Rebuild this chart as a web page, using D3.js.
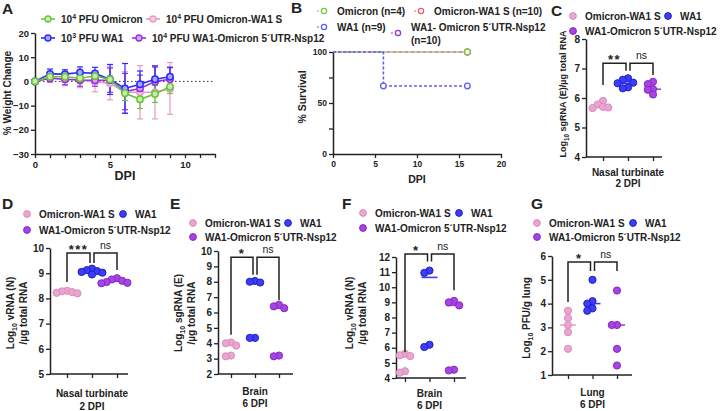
<!DOCTYPE html>
<html>
<head>
<meta charset="utf-8">
<script src="https://cdn.jsdelivr.net/npm/d3@7"></script>
<style>
  body { margin: 0; background: #fff; }
</style>
</head>
<body>
<svg id="fig" width="724" height="411"></svg>
<script>
// ---------- data ----------
// panel A: % weight change by day (mean, error)
const days = [0, 1, 2, 3, 4, 5, 6, 7, 8, 9];
const wOmicron = [0, 1.9, 1.9, 1.3, 2.2, 0.8, -4.9, -7.4, -5.2, -2.2];
const wOmicronErr = [0, 1.5, 1.8, 2.2, 1.8, 1.5, 3.0, 3.8, 3.5, 2.8];
const wOmiWA1S = [0, 1.5, 0.8, 0.6, -0.1, -0.8, -4.5, -4.5, -4.5, -2.9];
const wOmiWA1SErr = [0, 1.8, 2.5, 3.2, 4.2, 6.8, 8.5, 11, 11, 10.7];
const wWA1 = [0, 3.1, 3.0, 3.7, 3.3, 0.8, -2.9, -1.2, 0.9, 1.9];
const wWA1Err = [0, 2.0, 1.8, 2.3, 2.5, 6.2, 10.3, 5.5, 5.5, 3.8];
const wWA1Omi = [0, 1.3, 0.9, 0.6, 0.5, 0.5, -4.2, -2.9, -0.1, 0.9];
const wWA1OmiErr = [0, 1.5, 2.3, 2.6, 2.5, 5.0, 7.5, 5.5, 6.0, 5.0];

// panel B: survival (day, %)
const sOmicronT = [0, 16], sOmicronV = [100, 100];
const sOmiWA1ST = [0, 16], sOmiWA1SV = [100, 100];
const sWA1T = [0, 6, 16], sWA1V = [100, 66.7, 66.7];
const sWA1OmiT = [0, 16], sWA1OmiV = [100, 100];

// panels C-G: individual values [Omicron-WA1 S, WA1, WA1-Omicron 5'UTR-Nsp12]
const cPink = [5.9, 5.78, 5.7, 5.68, 5.66];
const cBlue = [6.67, 6.62, 6.52, 6.5, 6.33, 6.36];
const cPurple = [6.47, 6.55, 6.3, 6.28, 6.12];
const cCenter = [5.72, 6.5, 6.3];
const cBrackets = [["**", 7.18, 6.44, 6.92], ["ns", 7.18, 6.92, 6.78]];

const dPink = [8.3, 8.28, 8.25, 8.22, 8.2];
const dBlue = [9.18, 9.12, 9.08, 9.05, 8.95, 9.02];
const dPurple = [8.8, 8.75, 8.7, 8.65, 8.62, 8.6];
const dCenter = [8.25, 9.05, 8.7];
const dBrackets = [["***", 9.8, 8.65, 9.4], ["ns", 9.8, 9.4, 9.13]];

const ePink = [4.05, 4.0, 3.85, 3.2, 3.15];
const eBlue = [8.05, 8.0, 7.95, 4.35, 4.35];
const ePurple = [6.5, 6.4, 6.28, 3.2, 3.15];
const eCenter = [3.9, 7.95, 6.28];
const eBrackets = [["*", 9.6, 4.55, 8.45], ["ns", 9.6, 8.45, 6.8]];

const fPink = [5.6, 5.5, 5.45, 4.45, 4.35];
const fBlue = [11.1, 10.95, 6.2, 6.05];
const fPurple = [9.1, 9.0, 8.8, 4.55, 4.5];
const fCenter = [5.45, 10.65, 8.8];
const fBrackets = [["*", 12.2, 5.7, 11.7], ["ns", 12.2, 11.7, 9.8]];

const gPink = [3.7, 3.4, 3.1, 2.8, 2.1];
const gBlue = [5.0, 4.1, 4.0, 3.8, 3.7];
const gPurple = [4.55, 3.1, 3.1, 2.1, 1.4];
const gCenter = [3.1, 4.0, 3.1];
const gBrackets = [["*", 5.75, 4.07, 5.37], ["ns", 5.75, 5.37, 5.37]];

const groups = ["Omicron-WA1 S", "WA1", "WA1-Omicron 5´UTR-Nsp12"];

// ---------- styles ----------
const FONT = "'Liberation Sans', Arial, Helvetica, sans-serif";
const INK = "#222";
const green = "#6cc43c", greenFill = "#c8eea6";
const pink = "#e69bc8", pinkFill = "#f4cde3";
const blue = "#2b2bff", blueFill = "#a8a8ff";
const purple = "#9a2fe0", purpleFill = "#d6a9f3";
const dotFill = ["#eaa5d0", "#3d3df6", "#a645e4"];
const dotStroke = ["#d98dbd", "#2020c6", "#8427c4"];

const svg = d3.select("#fig");
svg.append("rect").attr("width", 724).attr("height", 411).attr("fill", "#fff");

function txt(x, y, size, anchor, weight) {
  return svg.append("text")
    .attr("x", x).attr("y", y)
    .attr("font-family", FONT)
    .attr("font-size", size)
    .attr("font-weight", weight || "bold")
    .attr("text-anchor", anchor || "start")
    .attr("fill", INK);
}

// rich text: _{..} subscript, ^{..} superscript
function rich(t, str, size) {
  const re = /(_|\^)\{([^}]*)\}/g;
  let last = 0, shift = 0, m;
  const add = (s, sh, fs) => {
    if (!s) return;
    const ts = t.append("tspan").attr("font-size", fs).text(s);
    if (sh - shift !== 0) ts.attr("dy", sh - shift);
    shift = sh;
  };
  while ((m = re.exec(str))) {
    add(str.slice(last, m.index), 0, size);
    add(m[2], m[1] === "_" ? size * 0.3 : -size * 0.4, size * 0.7);
    last = re.lastIndex;
  }
  add(str.slice(last), 0, size);
  return t;
}

function styleAxis(g, fs) {
  g.attr("font-family", FONT).attr("font-size", fs).attr("font-weight", "bold");
  g.select(".domain").attr("stroke", INK).attr("stroke-width", 1.5);
  g.selectAll(".tick line").attr("stroke", INK).attr("stroke-width", 1.3);
  g.selectAll(".tick text").attr("fill", INK);
}

function panelLetter(l, x, y) {
  txt(x, y, 15.5, "start").text(l);
}

function yLabel(str, x, y, size) {
  const t = txt(0, 0, size, "middle")
    .attr("transform", `translate(${x},${y}) rotate(-90)`)
    .attr("dy", "0.35em");
  rich(t, str, size);
}

// ---------- panel A ----------
panelLetter("A", 2, 14);
const xA = d3.scaleLinear().domain([0, 12]).range([35, 215]);
const yA = d3.scaleLinear().domain([-30, 20]).range([154, 33]);

const axA = svg.append("g").attr("transform", "translate(35,0)")
  .call(d3.axisLeft(yA).tickValues([-30, -20, -10, 0, 10, 20]).tickSize(4).tickSizeOuter(0).tickPadding(2));
styleAxis(axA, 9.5);
const axAx = svg.append("g").attr("transform", "translate(0,154)")
  .call(d3.axisBottom(xA).tickValues(d3.range(0, 13)).tickSize(4).tickSizeOuter(0).tickPadding(3)
    .tickFormat(d => d % 5 === 0 ? d : ""));
styleAxis(axAx, 9.5);

svg.append("line")
  .attr("x1", xA(0)).attr("x2", xA(12)).attr("y1", yA(0)).attr("y2", yA(0))
  .attr("stroke", "#333").attr("stroke-width", 1).attr("stroke-dasharray", "1.5,2.5");

txt(xA(6), 180, 12.5, "middle").text("DPI");
yLabel("% Weight Change", 7, 93, 10);

const seriesA = [
  { v: wOmiWA1S, e: wOmiWA1SErr, c: pink, f: pinkFill },
  { v: wWA1Omi, e: wWA1OmiErr, c: purple, f: purpleFill },
  { v: wWA1, e: wWA1Err, c: blue, f: blueFill },
  { v: wOmicron, e: wOmicronErr, c: green, f: greenFill }
];
const lineA = d3.line().x((d, i) => xA(days[i])).y(d => yA(d));
// error bars first
seriesA.forEach(s => {
  const g = svg.append("g").attr("stroke", s.c).attr("stroke-width", 1.2);
  days.forEach((d, i) => {
    if (!s.e[i]) return;
    const x = xA(d), y1 = yA(s.v[i] + s.e[i]), y2 = yA(s.v[i] - s.e[i]);
    g.append("line").attr("x1", x).attr("x2", x).attr("y1", y1).attr("y2", y2);
    g.append("line").attr("x1", x - 3).attr("x2", x + 3).attr("y1", y1).attr("y2", y1);
    g.append("line").attr("x1", x - 3).attr("x2", x + 3).attr("y1", y2).attr("y2", y2);
  });
});
seriesA.forEach(s => {
  svg.append("path").datum(s.v).attr("d", lineA)
    .attr("fill", "none").attr("stroke", s.c).attr("stroke-width", 1.6);
  svg.append("g").selectAll("circle").data(s.v).join("circle")
    .attr("cx", (d, i) => xA(days[i])).attr("cy", d => yA(d)).attr("r", 3.2)
    .attr("fill", s.f).attr("stroke", s.c).attr("stroke-width", 1.5);
});

// legend A
const legA = [
  { x: 48, y: 19, c: green, f: greenFill, t: "10^{4} PFU Omicron" },
  { x: 153, y: 19, c: pink, f: pinkFill, t: "10^{4} PFU Omicron-WA1 S" },
  { x: 48, y: 38, c: blue, f: blueFill, t: "10^{3} PFU WA1" },
  { x: 139, y: 38, c: purple, f: purpleFill, t: "10^{4} PFU WA1-Omicron 5´UTR-Nsp12" }
];
legA.forEach(l => {
  svg.append("line").attr("x1", l.x - 7).attr("x2", l.x + 7).attr("y1", l.y).attr("y2", l.y)
    .attr("stroke", l.c).attr("stroke-width", 1.6);
  svg.append("circle").attr("cx", l.x).attr("cy", l.y).attr("r", 3)
    .attr("fill", l.f).attr("stroke", l.c).attr("stroke-width", 1.4);
  rich(txt(l.x + 13, l.y + 3.6, 10, "start"), l.t, 10);
});

// ---------- panel B ----------
panelLetter("B", 291, 13);
const xB = d3.scaleLinear().domain([0, 20]).range([333, 501]);
const yB = d3.scaleLinear().domain([0, 100]).range([154, 52]);
const axB = svg.append("g").attr("transform", "translate(333,0)")
  .call(d3.axisLeft(yB).tickValues([0, 25, 50, 75, 100]).tickSize(4).tickSizeOuter(0).tickPadding(2)
    .tickFormat(d => d % 50 === 0 ? d : ""));
styleAxis(axB, 8.5);
const axBx = svg.append("g").attr("transform", "translate(0,154)")
  .call(d3.axisBottom(xB).tickValues([0, 5, 10, 15, 20]).tickSize(4).tickSizeOuter(0).tickPadding(3)
    .tickFormat(d3.format("d")));
styleAxis(axBx, 8.5);
txt(xB(10), 183, 10.5, "middle").text("DPI");
yLabel("% Survival", 302, 97, 10.5);

const survB = [
  { t: sWA1OmiT, v: sWA1OmiV, c: "#9933cc", w: 1, dash: "3,3", off: 0 },
  { t: sOmiWA1ST, v: sOmiWA1SV, c: "#e86464", w: 1, dash: "3,3", off: 3 },
  { t: sOmicronT, v: sOmicronV, c: "#74cc3c", w: 1, dash: "3,3", off: 0 },
  { t: sWA1T, v: sWA1V, c: "#5e5eff", w: 1.6, dash: "3,2", off: 0 }
];
const lineB = d3.line().x(d => xB(d[0])).y(d => yB(d[1])).curve(d3.curveStepAfter);
survB.forEach(s => {
  const pts = s.t.map((t, i) => [t, s.v[i]]);
  svg.append("path").datum(pts).attr("d", lineB)
    .attr("fill", "none").attr("stroke", s.c).attr("stroke-width", s.w)
    .attr("stroke-dasharray", s.dash).attr("stroke-dashoffset", s.off);
  svg.append("g").selectAll("circle").data(pts.slice(1)).join("circle")
    .attr("cx", d => xB(d[0])).attr("cy", d => yB(d[1])).attr("r", 2.8)
    .attr("fill", "#fff").attr("stroke", s.c).attr("stroke-width", 1.3);
});

const legB = [
  { x: 324, y: 11, c: "#74cc3c", t: ["Omicron (n=4)"] },
  { x: 421, y: 11, c: "#e86464", t: ["Omicron-WA1 S (n=10)"] },
  { x: 324, y: 27, c: "#5e5eff", t: ["WA1 (n=9)"] },
  { x: 398, y: 33, c: "#9933cc", t: ["WA1- Omicron 5´UTR-Nsp12", "(n=10)"], ty: 27 }
];
legB.forEach(l => {
  svg.append("line").attr("x1", l.x - 7).attr("x2", l.x + 7).attr("y1", l.y).attr("y2", l.y)
    .attr("stroke", l.c).attr("stroke-width", 1.2).attr("stroke-dasharray", "2,6");
  svg.append("circle").attr("cx", l.x).attr("cy", l.y).attr("r", 2.6)
    .attr("fill", "#fff").attr("stroke", l.c).attr("stroke-width", 1.3);
  const ty = l.ty || l.y;
  l.t.forEach((s, i) => txt(l.x + 13, ty + 3.6 + i * 13, 10, "start").text(s));
});

// ---------- panels C-G ----------
function swarm(vals, y, cx, s) {
  const pts = vals.map(v => ({ v, py: y(v) })).sort((a, b) => a.py - b.py);
  const placed = [];
  pts.forEach(p => {
    for (let k = 0; k < 12; k++) {
      const off = k === 0 ? 0 : (k % 2 ? -1 : 1) * Math.ceil(k / 2) * s;
      const px = cx + off;
      const hit = placed.some(q => (q.px - px) ** 2 + (q.py - p.py) ** 2 < s * s * 0.95);
      if (!hit) { p.px = px; placed.push(p); break; }
    }
  });
  return placed;
}

function scatterPanel(cfg) {
  panelLetter(cfg.letter, cfg.lx, cfg.ly);

  // legend
  const legItems = [
    { x: cfg.dotX, y: cfg.legY1, i: 0 },
    { x: cfg.wa1X, y: cfg.legY1, i: 1 },
    { x: cfg.dotX, y: cfg.legY2, i: 2 }
  ];
  legItems.forEach(l => {
    svg.append("circle").attr("cx", l.x).attr("cy", l.y).attr("r", 3.4)
      .attr("fill", dotFill[l.i]).attr("stroke", dotStroke[l.i]).attr("stroke-width", 1);
    txt(l.x + 12, l.y + 3.6, 10, "start").text(groups[l.i]);
  });

  const y = d3.scaleLinear().domain(cfg.domain).range([cfg.yBottom, cfg.yTop]);
  const x = d3.scalePoint().domain(groups)
    .range([cfg.axisX + cfg.pad, cfg.axisX + cfg.pad + 2 * cfg.step]);

  const ay = svg.append("g").attr("transform", `translate(${cfg.axisX},0)`)
    .call(d3.axisLeft(y).tickValues(d3.range(cfg.domain[0], cfg.domain[1] + 1))
      .tickFormat(d3.format("d")).tickSize(4).tickSizeOuter(0).tickPadding(2));
  styleAxis(ay, 10);

  const ax = svg.append("g").attr("transform", `translate(0,${cfg.yBottom})`)
    .call(d3.axisBottom(x).tickSize(4).tickSizeOuter(0).tickFormat(""));
  styleAxis(ax, 10);
  ax.select(".domain").attr("d", `M${cfg.axisX},0H${cfg.endX}`);

  cfg.cat.forEach((s, i) => txt(x(groups[1]), cfg.catY[i], 10, "middle").text(s));

  cfg.ylab.forEach((s, i) => yLabel(s, cfg.ylabX[i], cfg.ylabY, cfg.ylabSize || 10));

  // center lines
  cfg.centers.forEach((c, i) => {
    svg.append("line")
      .attr("x1", x(groups[i]) - 8).attr("x2", x(groups[i]) + 8)
      .attr("y1", y(c)).attr("y2", y(c))
      .attr("stroke", dotFill[i]).attr("stroke-width", 1.6);
  });

  // dots
  cfg.values.forEach((vals, i) => {
    const pts = swarm(vals, y, x(groups[i]), 5.2);
    svg.append("g").selectAll("circle").data(pts).join("circle")
      .attr("cx", d => d.px).attr("cy", d => d.py).attr("r", 3.6)
      .attr("fill", dotFill[i]).attr("stroke", dotStroke[i]).attr("stroke-width", 1);
  });

  // significance brackets
  cfg.brackets.forEach((b, i) => {
    const xl = x(groups[i]) + (i === 1 ? 2 : 0);
    const xr = x(groups[i + 1]) - (i === 0 ? 2 : 0);
    svg.append("path")
      .attr("d", `M${xl},${y(b[2])}V${y(b[1])}H${xr}V${y(b[3])}`)
      .attr("fill", "none").attr("stroke", INK).attr("stroke-width", 1.5);
    if (b[0] === "ns") {
      txt((xl + xr) / 2, y(b[1]) - 4, 10.5, "middle", "normal").text("ns");
    } else {
      txt((xl + xr) / 2, y(b[1]) + 1, 13, "middle").attr("letter-spacing", 1.5).text(b[0]);
    }
  });
}

scatterPanel({
  letter: "C", lx: 551, ly: 16,
  legY1: 16, legY2: 31, dotX: 573, wa1X: 668,
  axisX: 586, pad: 17, step: 25, endX: 662,
  yTop: 39, yBottom: 157, domain: [4, 8],
  values: [cPink, cBlue, cPurple], centers: cCenter, brackets: cBrackets,
  cat: ["Nasal turbinate", "2 DPI"], catY: [176, 187],
  ylab: ["Log_{10} sgRNA (E)/µg total RNA"], ylabX: [563], ylabY: 94, ylabSize: 9
});

scatterPanel({
  letter: "D", lx: 2, ly: 209,
  legY1: 214, legY2: 230, dotX: 27, wa1X: 123,
  axisX: 50, pad: 17, step: 25, endX: 128,
  yTop: 248, yBottom: 374, domain: [5, 10],
  values: [dPink, dBlue, dPurple], centers: dCenter, brackets: dBrackets,
  cat: ["Nasal turbinate", "2 DPI"], catY: [397, 410],
  ylab: ["Log_{10} vRNA (N)", "/µg total RNA"], ylabX: [10, 23], ylabY: 313
});

scatterPanel({
  letter: "E", lx: 170, ly: 209,
  legY1: 223, legY2: 237, dotX: 193, wa1X: 288,
  axisX: 218, pad: 13, step: 24, endX: 293,
  yTop: 251, yBottom: 374, domain: [2, 10],
  values: [ePink, eBlue, ePurple], centers: eCenter, brackets: eBrackets,
  cat: ["Brain", "6 DPI"], catY: [395, 407],
  ylab: ["Log_{10} sgRNA (E)", "/µg total RNA"], ylabX: [178, 191], ylabY: 313
});

scatterPanel({
  letter: "F", lx: 342, ly: 209,
  legY1: 213, legY2: 228, dotX: 363, wa1X: 459,
  axisX: 396, pad: 9, step: 24.5, endX: 466,
  yTop: 257, yBottom: 378, domain: [4, 12],
  values: [fPink, fBlue, fPurple], centers: fCenter, brackets: fBrackets,
  cat: ["Brain", "6 DPI"], catY: [397, 409],
  ylab: ["Log_{10} vRNA (N)", "/µg total RNA"], ylabX: [349, 362], ylabY: 313
});

scatterPanel({
  letter: "G", lx: 531, ly: 209,
  legY1: 223, legY2: 237, dotX: 537, wa1X: 633,
  axisX: 552, pad: 16, step: 24.5, endX: 632,
  yTop: 256, yBottom: 375, domain: [1, 6],
  values: [gPink, gBlue, gPurple], centers: gCenter, brackets: gBrackets,
  cat: ["Lung", "6 DPI"], catY: [396, 408],
  ylab: ["Log_{10} PFU/g lung"], ylabX: [526], ylabY: 318
});
</script>
</body>
</html>
